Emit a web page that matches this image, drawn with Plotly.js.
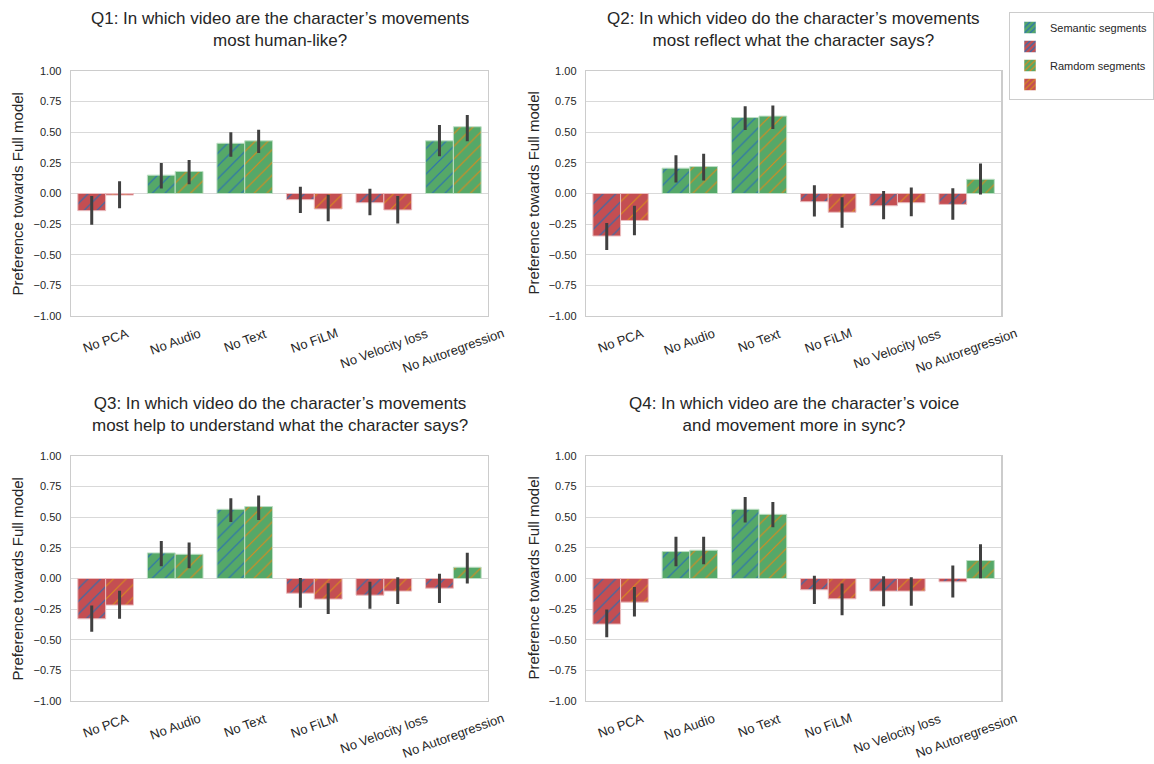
<!DOCTYPE html>
<html><head><meta charset="utf-8">
<script src="https://cdn.plot.ly/plotly-3.0.1.min.js"></script>
<style>body{margin:0;background:#fff}#c{width:1154px;height:764px}</style>
</head><body><div id="c"></div>
<script>
const categories = ['No PCA','No Audio','No Text','No FiLM','No Velocity loss','No Autoregression'];
const titles = [
  'Q1: In which video are the character\u2019s movements<br>most human-like?',
  'Q2: In which video do the character\u2019s movements<br>most reflect what the character says?',
  'Q3: In which video do the character\u2019s movements<br>most help to understand what the character says?',
  'Q4: In which video are the character\u2019s voice<br>and movement more in sync?'
];
const yTickVals = [-1,-0.75,-0.5,-0.25,0,0.25,0.5,0.75,1];
const seriesNames = ['Semantic segments','Ramdom segments'];

// Q1
const q1Sem   = [-0.14, 0.15, 0.41, -0.05, -0.075, 0.43];
const q1SemLo = [-0.255, 0.04, 0.30, -0.16, -0.177, 0.304];
const q1SemHi = [-0.02, 0.25, 0.50, 0.056, 0.038, 0.56];
const q1Rnd   = [-0.013, 0.18, 0.43, -0.126, -0.134, 0.545];
const q1RndLo = [-0.12, 0.075, 0.33, -0.226, -0.245, 0.427];
const q1RndHi = [0.10, 0.274, 0.52, -0.01, -0.02, 0.64];
// Q2
const q2Sem   = [-0.347, 0.207, 0.62, -0.067, -0.10, -0.089];
const q2SemLo = [-0.462, 0.089, 0.519, -0.188, -0.21, -0.215];
const q2SemHi = [-0.24, 0.312, 0.712, 0.067, 0.02, 0.043];
const q2Rnd   = [-0.22, 0.22, 0.632, -0.153, -0.075, 0.116];
const q2RndLo = [-0.34, 0.107, 0.527, -0.28, -0.185, -0.008];
const q2RndHi = [-0.10, 0.325, 0.718, -0.03, 0.05, 0.245];
// Q3
const q3Sem   = [-0.329, 0.209, 0.565, -0.12, -0.136, -0.079];
const q3SemLo = [-0.435, 0.10, 0.462, -0.239, -0.247, -0.20];
const q3SemHi = [-0.22, 0.307, 0.655, 0.005, -0.027, 0.038];
const q3Rnd   = [-0.217, 0.198, 0.587, -0.168, -0.103, 0.092];
const q3RndLo = [-0.329, 0.084, 0.478, -0.29, -0.209, -0.04];
const q3RndHi = [-0.10, 0.293, 0.677, -0.038, 0.01, 0.21];
// Q4
const q4Sem   = [-0.372, 0.22, 0.565, -0.092, -0.103, -0.027];
const q4SemLo = [-0.48, 0.10, 0.457, -0.209, -0.226, -0.155];
const q4SemHi = [-0.253, 0.34, 0.665, 0.022, 0.019, 0.106];
const q4Rnd   = [-0.193, 0.231, 0.524, -0.166, -0.103, 0.147];
const q4RndLo = [-0.31, 0.117, 0.418, -0.299, -0.223, 0.003];
const q4RndHi = [-0.07, 0.34, 0.625, -0.041, 0.011, 0.28];

const questions = [
  {sem:q1Sem, semLo:q1SemLo, semHi:q1SemHi, rnd:q1Rnd, rndLo:q1RndLo, rndHi:q1RndHi},
  {sem:q2Sem, semLo:q2SemLo, semHi:q2SemHi, rnd:q2Rnd, rndLo:q2RndLo, rndHi:q2RndHi},
  {sem:q3Sem, semLo:q3SemLo, semHi:q3SemHi, rnd:q3Rnd, rndLo:q3RndLo, rndHi:q3RndHi},
  {sem:q4Sem, semLo:q4SemLo, semHi:q4SemHi, rnd:q4Rnd, rndLo:q4RndLo, rndHi:q4RndHi}
];

const GREEN = '#55a868', RED = '#c44e52';
const EDGE = {pos:'#bddfc4', neg:'#ebbcbe'};
const HATCH = ['#2a6fb3', '#d98a1e'];
const FONT = 'Liberation Sans, Arial, sans-serif';
const W = 1154, H = 764;
// subplot pixel boxes [left, right, top, bottom]
const boxes = [[71,489,71,316],[587,1003,71,316],[71,489,456,701],[587,1003,456,701]];

const traces = [];
const annotations = [];
const layout = {
  width: W, height: H,
  margin: {l:0, r:0, t:0, b:0},
  paper_bgcolor: '#fff', plot_bgcolor: '#fff',
  barmode: 'group', bargap: 0.2, bargroupgap: 0,
  font: {family: FONT, color: '#262626'},
  showlegend: true,
  legend: {x: 1011/W, y: 1-12/H, xanchor:'left', yanchor:'top',
           bordercolor:'#cccccc', borderwidth:1, font:{size:11, color:'#262626'},
           bgcolor:'#fff', tracegroupgap: 0, traceorder:'normal'},
  annotations: annotations
};

questions.forEach((q, k) => {
  const n = k+1;
  const xa = n===1 ? 'x' : 'x'+n, ya = n===1 ? 'y' : 'y'+n;
  const [l,r,t,b] = boxes[k];
  const sets = [[q.sem,q.semLo,q.semHi],[q.rnd,q.rndLo,q.rndHi]];
  sets.forEach((s, j) => {
    const [vals, lo, hi] = s;
    // split each series into positive (green) and negative (red) parts sharing one slot
    [true, false].forEach(isPos => {
      const keep = vals.map(v => (v >= 0) === isPos);
      traces.push({
        type:'bar', x: categories, y: vals.map((v,i) => keep[i] ? v : null),
        xaxis: xa, yaxis: ya, showlegend:false, name: seriesNames[j],
        offsetgroup: 'g' + j,
        marker: {
          color: isPos ? GREEN : RED,
          line: {color: isPos ? EDGE.pos : EDGE.neg, width: 1},
          pattern: {shape:'/', fillmode:'overlay', fgcolor: HATCH[j], fgopacity: 1, size: 9, solidity: 0.13}
        },
        error_y: {type:'data', symmetric:false,
          array: vals.map((v,i) => keep[i] ? hi[i]-v : null),
          arrayminus: vals.map((v,i) => keep[i] ? v-lo[i] : null),
          color:'#404040', thickness:3, width:0},
        hoverinfo: 'skip'
      });
    });
  });
  const xkey = n===1 ? 'xaxis' : 'xaxis'+n, ykey = n===1 ? 'yaxis' : 'yaxis'+n;
  layout[xkey] = {domain:[l/W, r/W], anchor: ya, type:'category', range:[-0.5,5.5],
    showticklabels:false, ticks:'', showgrid:false, zeroline:false,
    showline:true, mirror:true, linecolor:'#cccccc', linewidth:1.25, fixedrange:true};
  layout[ykey] = {domain:[1-b/H, 1-t/H], anchor: xa, range:[-1,1], tickvals: yTickVals,
    tickformat:'.2f', ticks:'', ticklabelstandoff: 6, tickfont:{size:11, color:'#262626'},
    showgrid:true, gridcolor:'#d9d9d9', gridwidth:1, zeroline:false,
    showline:true, mirror:true, linecolor:'#cccccc', linewidth:1.25, fixedrange:true};
  // title
  annotations.push({text: titles[k], xref:'paper', yref:'paper', x:((l+r)/2)/W, y:1-(t-42)/H,
    xanchor:'center', yanchor:'middle', showarrow:false, font:{size:17, color:'#262626'}});
  // y title
  annotations.push({text:'Preference towards Full model', xref:'paper', yref:'paper',
    x:(l-53)/W, y:1-((t+b)/2)/H, xanchor:'center', yanchor:'middle', textangle:-90,
    showarrow:false, font:{size:15, color:'#262626'}});
  // x tick labels
  categories.forEach(c => {
    annotations.push({text:c, xref:xa, yref:'paper', x:c, y:1-(b+7)/H,
      xanchor:'center', yanchor:'top', textangle:-20, showarrow:false,
      font:{size:13, color:'#262626'}});
  });
});

// legend-only traces on a hidden axis
layout.xaxis5 = {domain:[0.999,1], visible:false, anchor:'y5', fixedrange:true};
layout.yaxis5 = {domain:[0.999,1], visible:false, anchor:'x5', fixedrange:true};
const legendItems = [
  [seriesNames[0], GREEN, HATCH[0]], [' ', RED, HATCH[0]],
  [seriesNames[1], GREEN, HATCH[1]], [' ', RED, HATCH[1]]
];
legendItems.forEach(([nm, col, hc]) => {
  traces.push({type:'bar', x:[null], y:[null], xaxis:'x5', yaxis:'y5', name:nm, showlegend:true,
    marker:{color:col, line:{color:'#ffffff', width:0.5},
      pattern:{shape:'/', fillmode:'overlay', fgcolor:hc, fgopacity:1, size:5, solidity:0.3}},
    hoverinfo:'skip'});
});

Plotly.newPlot('c', traces, layout, {displayModeBar:false, staticPlot:true});
</script>
</body></html>
